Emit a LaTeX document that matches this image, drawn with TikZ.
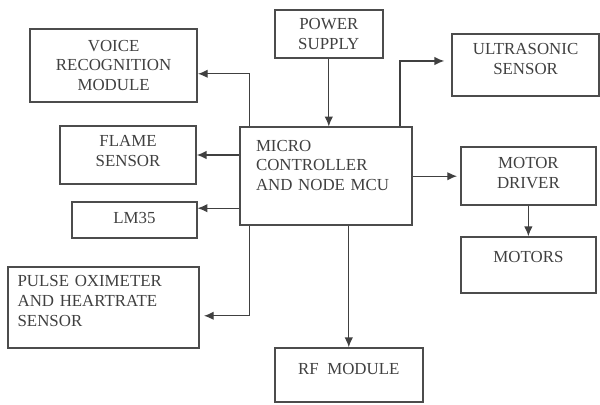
\documentclass[tikz,border=0pt]{standalone}
\usepackage{fontspec}
\setmainfont{Liberation Serif}
\usetikzlibrary{arrows.meta,positioning,calc}

\begin{document}
\begin{tikzpicture}[>={Latex[length=7pt,width=6pt]},font=\rmfamily\large,
   blk/.style={rectangle,draw=black!70,line width=1pt,align=center,text=black!75,inner sep=2pt},
   up/.style={text depth=#1},
   conn/.style={->,black!75,line width=0.9pt}]
  \useasboundingbox (0,0) rectangle (15,10.125);
  \node[blk,minimum width=4.18cm,minimum height=1.83cm] (voice) at (2.84,8.49) {VOICE\\RECOGNITION\\MODULE};
  \node[blk,up=0.21cm,minimum width=3.4cm,minimum height=1.45cm] (flame) at (3.2,6.25) {FLAME\\SENSOR};
  \node[blk,up=0.12cm,minimum width=3.12cm,minimum height=0.9cm] (lm) at (3.36,4.62) {LM35};
  \node[blk,up=1.3cm,minimum width=4.78cm,minimum height=2.03cm,align=left,text width=4.3cm] (pulse) at (2.59,2.44) {PULSE OXIMETER\\AND HEARTRATE\\SENSOR};
  \node[blk,up=1.53cm,minimum width=4.3cm,minimum height=2.45cm,align=left,text width=3.5cm] (mcu) at (8.15,5.72) {MICRO\\CONTROLLER\\AND NODE MCU};
  \node[blk,minimum width=2.7cm,minimum height=1.2cm] (pwr) at (8.22,9.27) {POWER\\SUPPLY};
  \node[blk,up=0.3cm,minimum width=3.67cm,minimum height=1.55cm] (us) at (13.14,8.5) {ULTRASONIC\\SENSOR};
  \node[blk,up=0.18cm,minimum width=3.37cm,minimum height=1.45cm] (md) at (13.21,5.72) {MOTOR\\DRIVER};
  \node[blk,up=0.38cm,minimum width=3.37cm,minimum height=1.4cm] (motors) at (13.21,3.5) {MOTORS};
  \node[blk,up=0.28cm,minimum width=3.7cm,minimum height=1.35cm] (rf) at (8.72,0.75) {RF\ \ MODULE};
  % links out of the controller
  \draw[conn] (pwr.south) -- (pwr.south |- mcu.north);
  \draw[conn] ($(mcu.north west)+(0.25,0)$) |- ($(voice.east)+(0,-0.21)$);
  \draw[conn] (mcu.west |- flame.east) -- (flame.east);
  \draw[conn] (mcu.west |- {$(lm.east)+(0,0.3)$}) -- ($(lm.east)+(0,0.3)$);
  \draw[conn] ($(mcu.south west)+(0.25,0)$) |- ($(pulse.east)+(0.1,-0.21)$);
  \draw[conn] ($(mcu.north east)+(-0.32,0)$) |- ($(us.west)+(-0.18,0.1)$);
  \draw[conn] (mcu.east |- md.west) -- ($(md.west)+(-0.08,0)$);
  \draw[conn] (md.south) -- (motors.north);
  \draw[conn] (rf.north |- mcu.south) -- (rf.north);
\end{tikzpicture}
\end{document}
